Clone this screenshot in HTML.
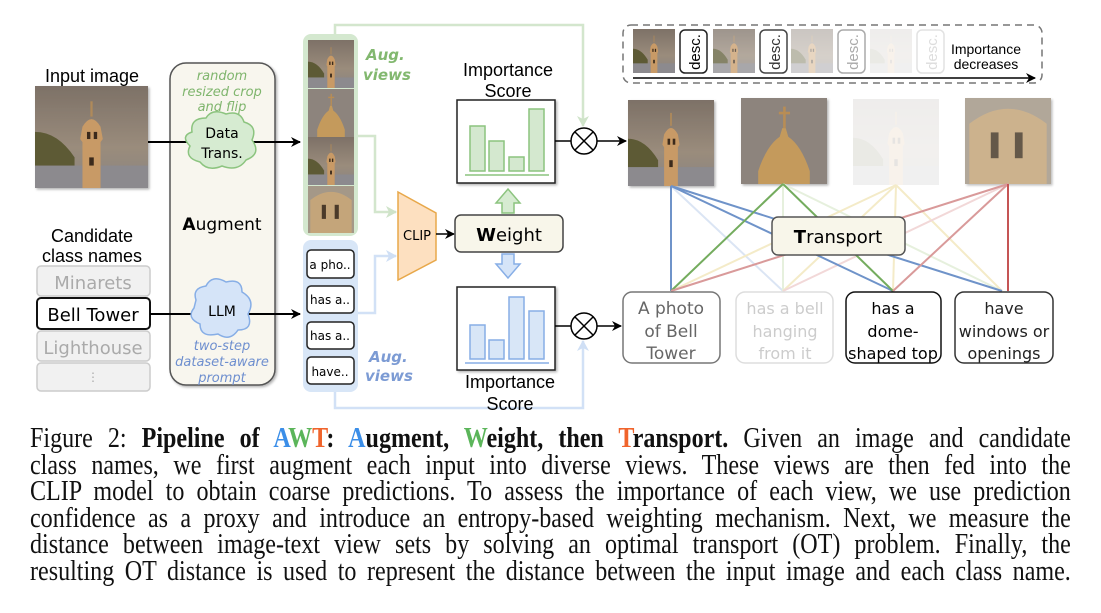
<!DOCTYPE html>
<html><head><meta charset="utf-8"><style>
body{margin:0;background:#fff;width:1101px;height:613px;overflow:hidden;position:relative}
svg{position:absolute;left:0;top:0}
.cap{position:absolute;left:30px;width:1254px;font-family:"Liberation Serif",serif;font-size:29px;line-height:26.6px;top:425px;color:#111;transform:scaleX(0.83);transform-origin:0 0}
.cap div{text-align:justify;text-align-last:justify;white-space:nowrap;height:26.6px}
b{font-weight:bold}
</style></head><body>
<svg width="1101" height="420" viewBox="0 0 1101 420" font-family="DejaVu Sans, sans-serif">
<defs>
<linearGradient id="sky" x1="0" y1="0" x2="0" y2="1"><stop offset="0" stop-color="#7d7167"/><stop offset="0.6" stop-color="#9a8c7c"/><stop offset="1" stop-color="#8a8480"/></linearGradient>
<symbol id="tw" viewBox="0 0 100 100" preserveAspectRatio="none">
<rect width="100" height="100" fill="url(#sky)"/>
<path d="M0 45 Q20 45 35 70 L35 100 L0 100Z" fill="#5d5a35"/>
<rect y="78" width="100" height="22" fill="#8c8a8e"/>
<path d="M42 100 L42 55 L40 52 L42 40 Q50 25 58 40 L60 52 L58 55 L58 100Z" fill="#c89a66"/>
<rect x="49" y="15" width="2" height="15" fill="#b08a5a"/>
<rect x="46" y="45" width="3" height="7" fill="#3a2a1a"/><rect x="52" y="45" width="3" height="7" fill="#3a2a1a"/>
<rect x="48" y="70" width="4" height="8" fill="#3a2a1a"/>
</symbol>
<symbol id="dome" viewBox="0 0 100 100" preserveAspectRatio="none">
<rect width="100" height="100" fill="#8d847d"/>
<path d="M20 100 L20 85 Q30 55 45 45 L48 35 L52 35 L55 45 Q70 55 80 85 L80 100Z" fill="#c49a5c"/>
<rect x="49" y="10" width="3" height="25" fill="#b88d55"/><rect x="44" y="16" width="13" height="3" fill="#b88d55"/>
</symbol>
<symbol id="top" viewBox="0 0 100 100" preserveAspectRatio="none">
<rect width="100" height="100" fill="#a49888"/>
<path d="M5 100 L5 30 Q50 -5 95 30 L95 100Z" fill="#c4a57a"/>
<rect x="30" y="40" width="9" height="30" fill="#4a3a2a"/><rect x="58" y="40" width="9" height="30" fill="#4a3a2a"/>
</symbol>
<marker id="ab" markerWidth="10" markerHeight="10" refX="9" refY="5" orient="auto" markerUnits="userSpaceOnUse"><path d="M0 0 L10 5 L0 10 L3 5Z" fill="#000"/></marker>
<marker id="ag" markerWidth="12" markerHeight="12" refX="10" refY="6" orient="auto" markerUnits="userSpaceOnUse"><path d="M0 0 L11 6 L0 12 L3 6Z" fill="#cfe3c9"/></marker>
<marker id="al" markerWidth="12" markerHeight="12" refX="10" refY="6" orient="auto" markerUnits="userSpaceOnUse"><path d="M0 0 L11 6 L0 12 L3 6Z" fill="#cfdff5"/></marker>
<filter id="sh"><feDropShadow dx="1.5" dy="1.5" stdDeviation="1.2" flood-opacity="0.3"/></filter>
</defs>

<path d="M335 35 L335 25 L583 25 L583 126" fill="none" stroke="#d3e6cd" stroke-width="2.5" marker-end="url(#ag)"/>
<path d="M335 390 L335 408 L583 408 L583 341" fill="none" stroke="#d2e1f6" stroke-width="2.5" marker-end="url(#al)"/>

<text x="92" y="82" font-family="Liberation Sans" font-size="18" text-anchor="middle">Input image</text>
<use href="#tw" x="35" y="86" width="113" height="102" filter="url(#sh)"/>
<text x="92" y="242" font-family="Liberation Sans" font-size="18" text-anchor="middle">Candidate</text>
<text x="92" y="262" font-family="Liberation Sans" font-size="18" text-anchor="middle">class names</text>
<rect x="37" y="266" width="113" height="30" rx="4" fill="#f1f1f1" stroke="#ccc" stroke-width="1.5"/>
<text x="93" y="289" font-size="18" fill="#aaa" text-anchor="middle">Minarets</text>
<rect x="37" y="298" width="113" height="31" rx="4" fill="#fff" stroke="#111" stroke-width="2"/>
<text x="93" y="321" font-size="18" fill="#000" text-anchor="middle">Bell Tower</text>
<rect x="37" y="331" width="113" height="30" rx="4" fill="#f1f1f1" stroke="#ccc" stroke-width="1.5"/>
<text x="93" y="354" font-size="18" fill="#aaa" text-anchor="middle">Lighthouse</text>
<rect x="37" y="363" width="113" height="28" rx="4" fill="#f1f1f1" stroke="#ccc" stroke-width="1.5"/>
<text x="93" y="381" font-size="12" fill="#aaa" text-anchor="middle">⋮</text>

<rect x="170" y="63" width="105" height="322" rx="16" fill="#f8f6ee" stroke="#555" stroke-width="1.5" filter="url(#sh)"/>
<g font-size="13" font-style="italic" fill="#7fb56d" text-anchor="middle"><text x="222" y="80">random</text><text x="222" y="96">resized crop</text><text x="222" y="111">and flip</text></g>
<g font-size="13" font-style="italic" fill="#6e8fcf" text-anchor="middle"><text x="222" y="350">two-step</text><text x="222" y="366">dataset-aware</text><text x="222" y="382">prompt</text></g>
<text x="222" y="230" font-size="17" text-anchor="middle"><tspan font-weight="bold">A</tspan>ugment</text>
<line x1="148" y1="142" x2="300" y2="142" stroke="#000" stroke-width="2" marker-end="url(#ab)"/>
<line x1="150" y1="314" x2="300" y2="314" stroke="#000" stroke-width="2" marker-end="url(#ab)"/>
<path d="M192 132 Q190 118 206 118 Q212 108 226 114 Q240 110 244 122 Q258 126 252 140 Q262 154 246 160 Q238 172 222 166 Q208 172 200 162 Q184 158 190 146 Q180 136 192 132Z" fill="#d6ebd1" stroke="#8cc47f" stroke-width="1.5"/>
<text x="222" y="138" font-size="14" text-anchor="middle">Data</text><text x="222" y="158" font-size="14" text-anchor="middle">Trans.</text>
<path d="M196 300 Q192 288 206 286 Q212 274 226 282 Q242 278 242 292 Q256 300 248 314 Q254 330 238 330 Q230 342 218 334 Q200 338 200 324 Q186 318 194 308Z" fill="#d5e4f8" stroke="#87aee6" stroke-width="1.5"/>
<text x="222" y="316" font-size="14" text-anchor="middle">LLM</text>

<rect x="303" y="34" width="55" height="202" rx="8" fill="#d4e8cf"/>
<use href="#tw" x="308" y="40" width="46" height="48"/>
<use href="#dome" x="308" y="89" width="46" height="48"/>
<use href="#tw" x="308" y="137" width="46" height="48"/>
<use href="#top" x="308" y="186" width="46" height="47"/>
<text x="366" y="60" font-size="15" font-weight="bold" font-style="italic" fill="#82b86f">Aug.</text>
<text x="363" y="80" font-size="15" font-weight="bold" font-style="italic" fill="#82b86f">views</text>
<rect x="303" y="240" width="55" height="152" rx="8" fill="#d8e6f7"/>
<g font-size="12" text-anchor="middle">
<rect x="307" y="250" width="47" height="28" rx="4" fill="#fff" stroke="#222" stroke-width="1.5"/><text x="330" y="269">a pho..</text>
<rect x="307" y="286" width="47" height="27" rx="4" fill="#fff" stroke="#222" stroke-width="1.5"/><text x="330" y="304">has a..</text>
<rect x="307" y="322" width="47" height="27" rx="4" fill="#fff" stroke="#222" stroke-width="1.5"/><text x="330" y="340">has a..</text>
<rect x="307" y="357" width="47" height="27" rx="4" fill="#fff" stroke="#222" stroke-width="1.5"/><text x="330" y="376">have..</text>
</g>
<text x="369" y="362" font-size="15" font-weight="bold" font-style="italic" fill="#7c9bd4">Aug.</text>
<text x="365" y="381" font-size="15" font-weight="bold" font-style="italic" fill="#7c9bd4">views</text>
<path d="M358 136 L375 136 L375 212 L396 212" fill="none" stroke="#d3e6cd" stroke-width="2.5" marker-end="url(#ag)"/>
<path d="M358 313 L375 313 L375 256 L396 256" fill="none" stroke="#d2e1f6" stroke-width="2.5" marker-end="url(#al)"/>

<path d="M398 192 L436 213 L436 260 L398 280Z" fill="#fde0c0" stroke="#e8a84a" stroke-width="1.5"/>
<text x="417" y="240" font-size="13" text-anchor="middle">CLIP</text>
<line x1="436" y1="234" x2="454" y2="234" stroke="#000" stroke-width="1.5" marker-end="url(#ab)"/>
<rect x="455" y="215" width="108" height="37" rx="6" fill="#f8f6ea" stroke="#444" stroke-width="1.5"/>
<text x="509" y="241" font-size="18" text-anchor="middle"><tspan font-weight="bold">W</tspan>eight</text>
<path d="M502 213 L502 203 L496 203 L508 189 L520 203 L514 203 L514 213Z" fill="#d6ebd1" stroke="#8cc47f" stroke-width="1.5"/>
<path d="M502 254 L502 264 L496 264 L508 278 L520 264 L514 264 L514 254Z" fill="#d5e4f8" stroke="#87aee6" stroke-width="1.5"/>

<text x="508" y="76" font-family="Liberation Sans" font-size="18" text-anchor="middle">Importance</text>
<text x="508" y="97" font-family="Liberation Sans" font-size="18" text-anchor="middle">Score</text>
<rect x="457" y="100" width="98" height="83" fill="#fff" stroke="#222" stroke-width="1.5" filter="url(#sh)"/>
<g fill="#d4e8cf" stroke="#8cc47f" stroke-width="1.5">
<rect x="470" y="126" width="15" height="45"/><rect x="489" y="141" width="15" height="30"/><rect x="509" y="157" width="15" height="14"/><rect x="529" y="109" width="15" height="62"/></g>
<line x1="465" y1="175" x2="549" y2="175" stroke="#8cc47f" stroke-width="1.5"/>
<rect x="457" y="287" width="98" height="83" fill="#fff" stroke="#222" stroke-width="1.5" filter="url(#sh)"/>
<g fill="#d8e6f7" stroke="#87aee6" stroke-width="1.5">
<rect x="470" y="325" width="15" height="34"/><rect x="489" y="340" width="15" height="19"/><rect x="509" y="297" width="15" height="62"/><rect x="529" y="311" width="15" height="48"/></g>
<line x1="465" y1="363" x2="549" y2="363" stroke="#87aee6" stroke-width="1.5"/>
<text x="510" y="388" font-family="Liberation Sans" font-size="18" text-anchor="middle">Importance</text>
<text x="510" y="410" font-family="Liberation Sans" font-size="18" text-anchor="middle">Score</text>

<g stroke="#000" stroke-width="1.5" fill="#fff">
<line x1="555" y1="141" x2="571" y2="141"/><line x1="555" y1="326" x2="571" y2="326"/>
<circle cx="584" cy="141" r="13"/><path d="M575 132 L593 150 M593 132 L575 150"/>
<circle cx="584" cy="326" r="13"/><path d="M575 317 L593 335 M593 317 L575 335"/>
</g>
<line x1="597" y1="141" x2="626" y2="141" stroke="#000" stroke-width="1.5" marker-end="url(#ab)"/>
<line x1="597" y1="326" x2="621" y2="326" stroke="#000" stroke-width="1.5" marker-end="url(#ab)"/>

<rect x="623" y="25" width="419" height="58" rx="8" fill="#fff" stroke="#777" stroke-width="1.5" stroke-dasharray="7,5"/>
<use href="#tw" x="633" y="29" width="42" height="44"/>
<rect x="680" y="30" width="27" height="43" rx="5" fill="#fff" stroke="#222" stroke-width="1.5"/>
<text transform="translate(700,52) rotate(-90)" font-family="Liberation Sans" font-size="15" text-anchor="middle">desc.</text>
<use href="#tw" x="713" y="29" width="42" height="44" opacity="0.75"/>
<rect x="760" y="30" width="27" height="43" rx="5" fill="#fff" stroke="#444" stroke-width="1.5"/>
<text transform="translate(780,52) rotate(-90)" font-family="Liberation Sans" font-size="15" text-anchor="middle" fill="#333">desc.</text>
<use href="#tw" x="791" y="29" width="42" height="44" opacity="0.4"/>
<rect x="838" y="30" width="27" height="43" rx="5" fill="#fff" stroke="#aaa" stroke-width="1.5"/>
<text transform="translate(858,52) rotate(-90)" font-family="Liberation Sans" font-size="15" text-anchor="middle" fill="#aaa">desc.</text>
<use href="#tw" x="870" y="29" width="42" height="44" opacity="0.12"/>
<rect x="917" y="30" width="27" height="43" rx="5" fill="#fff" stroke="#e2e2e2" stroke-width="1.5"/>
<text transform="translate(937,52) rotate(-90)" font-family="Liberation Sans" font-size="15" text-anchor="middle" fill="#ddd">desc.</text>
<text x="986" y="54" font-family="Liberation Sans" font-size="14" text-anchor="middle">Importance</text>
<text x="986" y="69" font-family="Liberation Sans" font-size="14" text-anchor="middle">decreases</text>
<line x1="633" y1="78" x2="1035" y2="78" stroke="#000" stroke-width="1.5" marker-end="url(#ab)"/>

<use href="#tw" x="628" y="100" width="86" height="86" filter="url(#sh)"/>
<use href="#dome" x="741" y="98" width="86" height="86" filter="url(#sh)"/>
<use href="#tw" x="853" y="99" width="86" height="86" opacity="0.12"/>
<use href="#top" x="965" y="98" width="86" height="86" filter="url(#sh)" opacity="0.85"/>

<g stroke-width="2" fill="none">
<g stroke="#dbe5f4"><line x1="671" y1="186" x2="783" y2="291"/></g>
<g stroke="#e6f0dd"><line x1="783" y1="184" x2="783" y2="291"/><line x1="783" y1="184" x2="1002" y2="291"/></g>
<g stroke="#f4ebc8"><line x1="896" y1="185" x2="671" y2="291"/><line x1="896" y1="185" x2="783" y2="291"/><line x1="896" y1="185" x2="893" y2="291"/><line x1="896" y1="185" x2="1002" y2="291"/></g>
<g stroke="#f2d8d8"><line x1="1008" y1="184" x2="783" y2="291"/></g>
<g stroke="#6f93c9"><line x1="671" y1="186" x2="671" y2="291"/><line x1="671" y1="186" x2="893" y2="291"/><line x1="671" y1="186" x2="1002" y2="291"/></g>
<g stroke="#74ac5e"><line x1="783" y1="184" x2="671" y2="291"/><line x1="783" y1="184" x2="893" y2="291"/></g>
<g stroke="#d99a9a"><line x1="1008" y1="184" x2="671" y2="291"/><line x1="1008" y1="184" x2="893" y2="291"/></g>
<line x1="1008" y1="184" x2="1008" y2="291" stroke="#c55555"/>
</g>
<rect x="772" y="217" width="133" height="38" rx="6" fill="#f8f6ea" stroke="#555" stroke-width="1.5"/>
<text x="838" y="243" font-size="18" text-anchor="middle"><tspan font-weight="bold">T</tspan>ransport</text>

<g font-size="17" text-anchor="middle">
<rect x="623" y="292" width="97" height="71" rx="9" fill="#fff" stroke="#777" stroke-width="1.5"/>
<g fill="#666"><text x="671" y="314">A photo</text><text x="671" y="337">of Bell</text><text x="671" y="359">Tower</text></g>
<rect x="736" y="292" width="97" height="71" rx="9" fill="#fff" stroke="#ddd" stroke-width="1.5"/>
<g fill="#ccc" font-size="16"><text x="785" y="314">has a bell</text><text x="785" y="337">hanging</text><text x="785" y="359">from it</text></g>
<rect x="846" y="292" width="95" height="71" rx="9" fill="#fff" stroke="#111" stroke-width="1.5"/>
<g fill="#000" font-size="16"><text x="893" y="314">has a</text><text x="893" y="337">dome-</text><text x="893" y="359">shaped top</text></g>
<rect x="955" y="292" width="98" height="71" rx="9" fill="#fff" stroke="#333" stroke-width="1.5"/>
<g fill="#222" font-size="16"><text x="1004" y="314">have</text><text x="1004" y="337">windows or</text><text x="1004" y="359">openings</text></g>
</g>
</svg>
<div class="cap">
<div>Figure 2: <b>Pipeline of <span style="color:#3b8ee8">A</span><span style="color:#5bb55a">W</span><span style="color:#f0642c">T</span>: <span style="color:#3b8ee8">A</span>ugment, <span style="color:#5bb55a">W</span>eight, then <span style="color:#f0642c">T</span>ransport.</b> Given an image and candidate</div>
<div>class names, we first augment each input into diverse views. These views are then fed into the</div>
<div>CLIP model to obtain coarse predictions. To assess the importance of each view, we use prediction</div>
<div>confidence as a proxy and introduce an entropy-based weighting mechanism. Next, we measure the</div>
<div>distance between image-text view sets by solving an optimal transport (OT) problem. Finally, the</div>
<div>resulting OT distance is used to represent the distance between the input image and each class name.</div>
</div>
</body></html>
